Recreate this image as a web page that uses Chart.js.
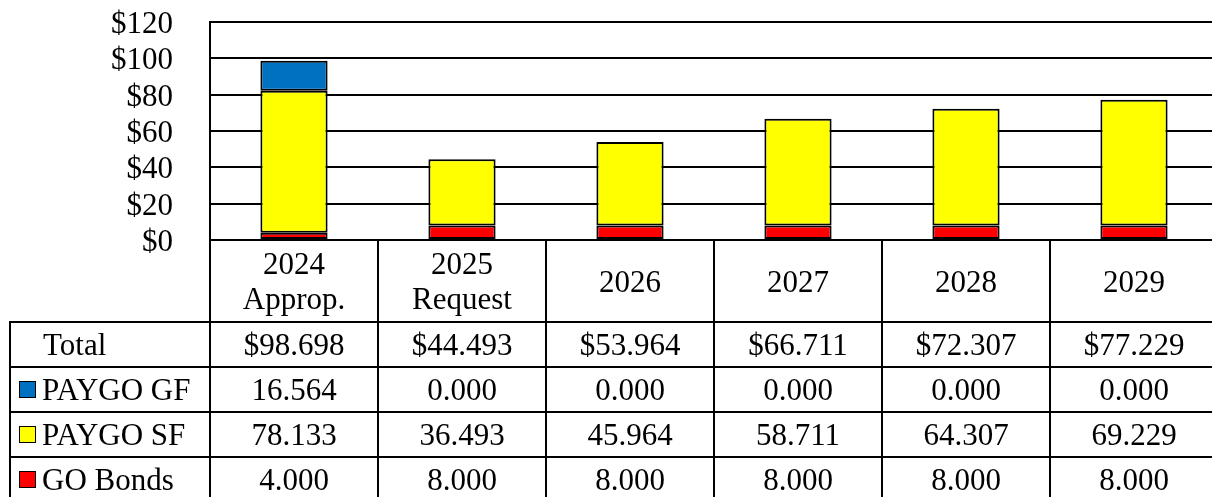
<!DOCTYPE html>
<html>
<head>
<meta charset="utf-8">
<script src="https://cdn.jsdelivr.net/npm/chart.js@4"></script>
<style>
  html, body { margin: 0; padding: 0; background: #fff; overflow: hidden; width: 1212px; height: 497px; }
  #wrap { position: relative; width: 1212px; height: 497px; }
  #myChart { position: absolute; left: 0; top: 0; }
  .cell { position: absolute; box-sizing: border-box; border: 2px solid #000;
          font-family: 'Liberation Serif', 'Times New Roman', serif; font-size: 31px; color: #000;
          display: flex; align-items: center; justify-content: center; text-align: center; line-height: 35px; }
  .lab { justify-content: flex-start; }
  .sw { display: inline-block; width: 17px; height: 17px; box-sizing: border-box; border: 1.5px solid #000; margin-right: 6px; }
</style>
</head>
<body>
<div id="wrap">
  <canvas id="myChart" width="1218" height="262"></canvas>
  <div id="table"></div>
</div>
<script>
var categories = [['2024', 'Approp.'], ['2025', 'Request'], '2026', '2027', '2028', '2029'];
var totals = [98.698, 44.493, 53.964, 66.711, 72.307, 77.229];
var paygoGF = [16.564, 0.000, 0.000, 0.000, 0.000, 0.000];
var paygoSF = [78.133, 36.493, 45.964, 58.711, 64.307, 69.229];
var goBonds = [4.000, 8.000, 8.000, 8.000, 8.000, 8.000];
var yTicks = [0, 20, 40, 60, 80, 100, 120];

var blue = '#0070C0', yellow = '#FFFF00', red = '#FF0000';

var ctx = document.getElementById('myChart').getContext('2d');

function bw(c) { return c.raw === 0 ? 0 : 2; }

var myChart = new Chart(ctx, {
  type: 'bar',
  data: {
    labels: categories,
    datasets: [
      { label: 'GO Bonds', data: goBonds, backgroundColor: red, borderColor: '#000', borderWidth: bw, borderSkipped: false },
      { label: 'PAYGO SF', data: paygoSF, backgroundColor: yellow, borderColor: '#000', borderWidth: bw, borderSkipped: false },
      { label: 'PAYGO GF', data: paygoGF, backgroundColor: blue, borderColor: '#000', borderWidth: bw, borderSkipped: false }
    ]
  },
  options: {
    responsive: false,
    animation: false,
    devicePixelRatio: 1,
    layout: { padding: { top: 22, bottom: 22, left: 0, right: 0 } },
    plugins: { legend: { display: false }, tooltip: { enabled: false } },
    datasets: { bar: { categoryPercentage: 1, barPercentage: 0.4 } },
    scales: {
      x: { stacked: true, display: false },
      y: {
        stacked: true,
        min: yTicks[0],
        max: yTicks[yTicks.length - 1],
        afterFit: function (s) { s.width = 210; s.paddingTop = 0; s.paddingBottom = 0; },
        afterBuildTicks: function (s) { s.ticks = yTicks.map(function (v) { return { value: v }; }); },
        ticks: {
          autoSkip: false,
          padding: 37,
          labelOffset: 3,
          color: '#000',
          font: { family: "'Liberation Serif', 'Times New Roman', serif", size: 31 },
          callback: function (v) { return '$' + v; }
        },
        grid: { color: '#000', lineWidth: 2, drawTicks: false },
        border: { display: true, color: '#000', width: 2 }
      }
    }
  }
});

// data table under the chart
var table = document.getElementById('table');
var colLeft = 210, colW = 168;
var rows = [
  { name: 'Total', swatch: null, values: totals.map(function (v) { return '$' + v.toFixed(3); }) },
  { name: 'PAYGO GF', swatch: blue, values: paygoGF.map(function (v) { return v.toFixed(3); }) },
  { name: 'PAYGO SF', swatch: yellow, values: paygoSF.map(function (v) { return v.toFixed(3); }) },
  { name: 'GO Bonds', swatch: red, values: goBonds.map(function (v) { return v.toFixed(3); }) }
];

function cell(x, y, w, h, html, cls) {
  var d = document.createElement('div');
  d.className = 'cell' + (cls ? ' ' + cls : '');
  d.style.left = (x - 1) + 'px';
  d.style.top = (y - 1) + 'px';
  d.style.width = (w + 2) + 'px';
  d.style.height = (h + 2) + 'px';
  d.innerHTML = html;
  table.appendChild(d);
  return d;
}

categories.forEach(function (c, i) {
  var txt = Array.isArray(c) ? c.join('<br>') : c;
  cell(colLeft + i * colW, 240, colW, 82, '<div>' + txt + '</div>');
});

rows.forEach(function (r, j) {
  var y = 322 + j * 45;
  var lab = r.swatch
    ? '<span class="sw" style="background:' + r.swatch + '"></span>' + r.name
    : r.name;
  var lc = cell(10, y, 200, 45, lab, 'lab');
  lc.style.paddingLeft = r.swatch ? '8px' : '32px';
  r.values.forEach(function (v, i) {
    cell(colLeft + i * colW, y, colW, 45, v);
  });
});
</script>
</body>
</html>
